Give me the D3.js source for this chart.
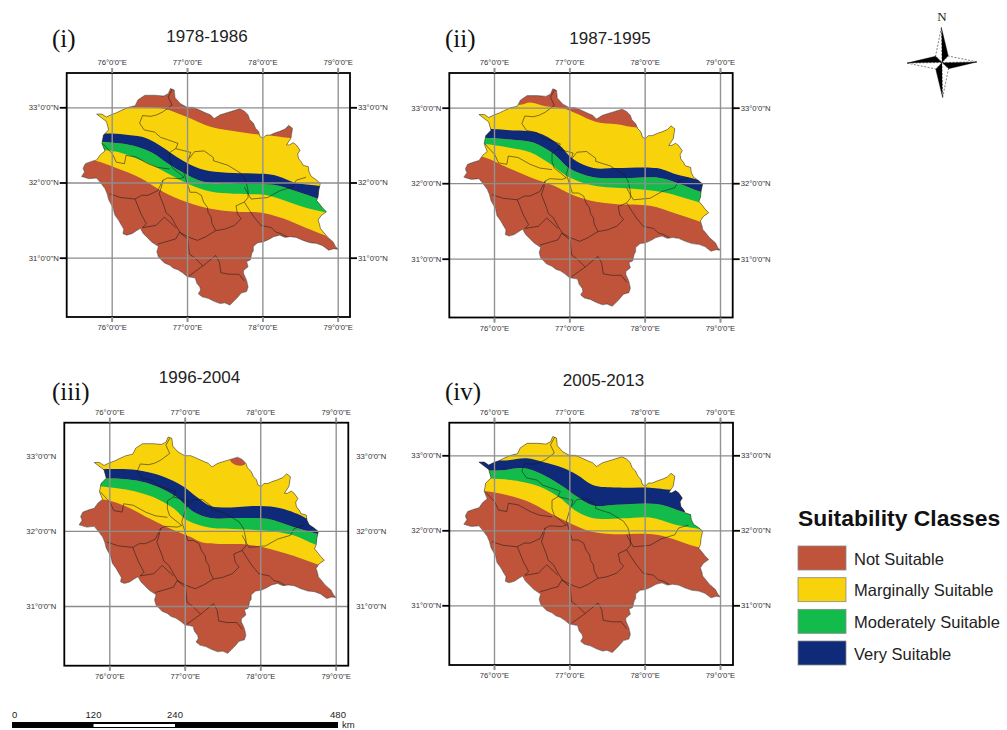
<!DOCTYPE html>
<html><head><meta charset="utf-8">
<script src="https://cdn.jsdelivr.net/npm/d3@7"></script>
<style>
html,body{margin:0;padding:0;background:#fff}
svg{display:block}
text{font-family:"Liberation Sans",Arial,sans-serif}
.serif{font-family:"Liberation Serif","Times New Roman",serif}
</style></head><body>
<svg id="c" width="1007" height="730"></svg>
<script>
// ---------- data ----------
const lonTicks=[76,77,78,79];
const latTicks=[33,32,31];
const classNames=["Not Suitable","Marginally Suitable","Moderately Suitable","Very Suitable"];
const classColors=["#BF543B","#F8D30C","#13BC4A","#0E2A78"];
const periods=["1978-1986","1987-1995","1996-2004","2005-2013"];
const panelTags=["(i)","(ii)","(iii)","(iv)"];
const scaleKm=[0,120,240,480];

const stateOutline=[[75.80,32.91],[75.87,32.91],[75.93,32.87],[75.99,32.90],[76.07,32.93],[76.13,32.96],[76.22,33.00],[76.31,33.02],[76.35,33.10],[76.44,33.16],[76.58,33.16],[76.69,33.15],[76.75,33.18],[76.78,33.25],[76.83,33.23],[76.84,33.13],[76.91,33.05],[77.00,33.00],[77.08,33.00],[77.15,32.97],[77.26,32.92],[77.31,32.90],[77.36,32.85],[77.44,32.90],[77.57,32.94],[77.70,32.98],[77.76,32.95],[77.81,32.90],[77.83,32.84],[77.88,32.79],[77.91,32.72],[77.95,32.68],[77.97,32.61],[78.01,32.59],[78.05,32.63],[78.10,32.63],[78.17,32.66],[78.23,32.68],[78.30,32.71],[78.35,32.76],[78.40,32.72],[78.38,32.59],[78.32,32.50],[78.36,32.50],[78.41,32.53],[78.45,32.50],[78.50,32.43],[78.47,32.38],[78.48,32.32],[78.52,32.27],[78.54,32.23],[78.61,32.21],[78.62,32.14],[78.65,32.08],[78.71,32.04],[78.77,31.99],[78.75,31.90],[78.74,31.81],[78.72,31.76],[78.77,31.70],[78.80,31.66],[78.85,31.61],[78.78,31.56],[78.74,31.50],[78.76,31.44],[78.77,31.39],[78.82,31.33],[78.86,31.28],[78.94,31.21],[78.97,31.15],[79.01,31.11],[78.95,31.12],[78.88,31.10],[78.80,31.16],[78.72,31.19],[78.63,31.20],[78.54,31.23],[78.45,31.27],[78.37,31.28],[78.30,31.27],[78.23,31.30],[78.15,31.28],[78.08,31.24],[78.01,31.21],[77.94,31.20],[77.88,31.15],[77.88,31.09],[77.86,31.06],[77.84,30.97],[77.79,30.95],[77.81,30.88],[77.75,30.83],[77.75,30.79],[77.79,30.70],[77.81,30.61],[77.79,30.55],[77.72,30.53],[77.66,30.46],[77.62,30.42],[77.57,30.37],[77.50,30.40],[77.44,30.39],[77.36,30.42],[77.28,30.46],[77.20,30.48],[77.15,30.52],[77.18,30.57],[77.17,30.61],[77.13,30.66],[77.11,30.73],[77.00,30.75],[76.94,30.80],[76.88,30.84],[76.82,30.86],[76.77,30.90],[76.70,30.93],[76.62,31.01],[76.60,31.08],[76.62,31.15],[76.53,31.21],[76.47,31.27],[76.42,31.32],[76.38,31.39],[76.33,31.36],[76.27,31.32],[76.20,31.30],[76.15,31.32],[76.16,31.38],[76.13,31.43],[76.09,31.50],[76.04,31.57],[76.02,31.66],[75.96,31.77],[75.94,31.85],[75.91,31.92],[75.85,32.00],[75.80,32.06],[75.70,32.05],[75.60,32.08],[75.64,32.14],[75.62,32.19],[75.65,32.25],[75.73,32.28],[75.80,32.30],[75.85,32.37],[75.91,32.42],[75.87,32.52],[75.89,32.63],[75.96,32.70],[75.93,32.81]];

const districtLines=[
[[76.81,33.25],[76.75,33.14],[76.80,33.03],[76.68,32.94],[76.60,32.90],[76.52,32.88],[76.41,32.89],[76.37,32.79],[76.43,32.70],[76.57,32.67],[76.65,32.60],[76.74,32.57],[76.88,32.52],[76.85,32.45],[77.05,32.40]],
[[76.85,32.45],[76.77,32.40],[76.77,32.29],[76.80,32.20],[76.90,32.12],[76.96,32.07]],
[[77.05,32.40],[77.00,32.25],[76.96,32.12],[76.99,32.03],[77.04,31.87],[77.12,31.87],[77.19,31.83],[77.22,31.74],[77.27,31.67],[77.28,31.60],[77.32,31.54],[77.33,31.46],[77.38,31.36]],
[[75.88,32.52],[76.01,32.38],[76.06,32.27],[76.17,32.25],[76.19,32.36],[76.32,32.34],[76.48,32.25],[76.61,32.20],[76.77,32.18]],
[[76.96,32.07],[76.90,32.05],[76.74,32.06],[76.68,32.03],[76.66,31.94],[76.63,31.85],[76.70,31.67],[76.72,31.60],[76.79,31.54],[76.85,31.43],[76.92,31.32],[77.01,31.25]],
[[77.03,32.32],[77.10,32.41],[77.23,32.42],[77.35,32.33],[77.35,32.29],[77.54,32.23],[77.72,32.12],[77.78,32.03],[77.81,31.89],[77.81,31.80],[77.76,31.74],[77.65,31.69],[77.67,31.58],[77.72,31.52],[77.63,31.43],[77.50,31.38],[77.38,31.36],[77.25,31.28],[77.14,31.23],[77.03,31.27],[76.90,31.34],[76.85,31.25],[76.61,31.18]],
[[77.76,31.74],[77.83,31.63],[77.89,31.54],[77.98,31.43],[78.12,31.40],[78.18,31.34],[78.25,31.32],[78.34,31.27]],
[[75.97,31.85],[76.12,31.80],[76.31,31.78],[76.40,31.83],[76.48,31.83],[76.61,31.89],[76.68,32.03]],
[[76.31,31.78],[76.39,31.58],[76.46,31.45],[76.41,31.40],[76.59,31.43],[76.70,31.54],[76.85,31.40]],
[[77.01,31.25],[77.03,31.05],[77.10,31.00],[77.21,30.89],[77.03,30.76]],
[[77.21,30.89],[77.38,31.03],[77.43,30.94],[77.45,30.80],[77.56,30.78],[77.69,30.78],[77.76,30.69]],
[[77.76,31.94],[77.85,31.78],[78.07,31.80],[78.23,31.89],[78.40,31.94],[78.45,32.03],[78.58,32.07]]
];

// class boundaries, each [lon, lat], west to east
const upperYellowEdge=[
[[75.71,33.00],[76.33,33.00],[76.69,32.98],[77.00,32.87],[77.31,32.74],[77.57,32.69],[77.92,32.64],[78.15,32.62],[78.41,32.59],[79.12,32.57]],
[[75.81,33.01],[76.35,33.04],[76.48,33.07],[76.68,33.02],[76.92,32.99],[77.10,32.92],[77.36,32.81],[77.63,32.78],[77.94,32.74],[78.16,32.84],[79.13,33.06]],
[[75.52,33.41],[77.51,33.32],[77.62,32.91],[77.79,32.88],[77.91,33.32],[79.28,33.41]],
[[75.50,33.60],[79.30,33.60]]
];
const veryTopEdge=[
[[75.71,32.65],[76.00,32.65],[76.22,32.63],[76.46,32.59],[76.66,32.48],[76.82,32.37],[77.00,32.26],[77.22,32.17],[77.53,32.13],[77.88,32.12],[78.15,32.10],[78.46,31.99],[78.72,31.96],[79.03,31.90]],
[[75.81,32.72],[75.92,32.72],[76.21,32.70],[76.57,32.67],[76.85,32.52],[77.05,32.32],[77.32,32.20],[77.63,32.20],[78.16,32.20],[78.38,32.13],[78.73,32.04],[79.04,31.95]],
[[75.74,32.82],[75.90,32.82],[76.36,32.81],[76.72,32.72],[76.98,32.59],[77.16,32.45],[77.34,32.33],[77.56,32.31],[78.00,32.33],[78.27,32.30],[78.62,32.16],[78.80,32.00],[79.06,31.90]],
[[75.59,33.00],[76.10,32.93],[76.43,32.96],[76.65,32.91],[76.92,32.83],[77.10,32.74],[77.32,32.60],[77.63,32.57],[78.03,32.57],[78.34,32.54],[79.13,32.49]]
];
const moderateTopEdge=[
[[75.71,32.54],[76.02,32.53],[76.29,32.49],[76.55,32.39],[76.75,32.25],[76.95,32.13],[77.22,32.01],[77.70,31.98],[78.15,31.97],[78.46,31.88],[78.72,31.79],[79.03,31.68]],
[[75.81,32.60],[75.92,32.60],[76.21,32.58],[76.52,32.54],[76.79,32.39],[77.01,32.19],[77.32,32.08],[77.81,32.07],[78.20,32.07],[78.47,31.99],[78.73,31.89],[79.04,31.81]],
[[75.74,32.70],[75.92,32.70],[76.36,32.67],[76.63,32.59],[76.89,32.45],[77.12,32.25],[77.34,32.17],[77.73,32.17],[78.09,32.16],[78.44,32.05],[78.75,31.96],[79.06,31.88]],
[[75.81,32.80],[76.10,32.80],[76.39,32.83],[76.65,32.74],[76.92,32.58],[77.10,32.45],[77.32,32.33],[77.63,32.34],[78.16,32.35],[78.49,32.25],[78.62,32.20],[78.78,32.00],[79.04,31.89]]
];
const lowerYellowEdge=[
[[75.71,32.44],[76.07,32.41],[76.38,32.30],[76.60,32.20],[76.82,32.08],[77.04,31.97],[77.31,31.88],[77.62,31.85],[78.06,31.83],[78.32,31.75],[78.59,31.66],[78.85,31.60],[79.03,31.55]],
[[75.81,32.52],[75.88,32.52],[76.21,32.47],[76.48,32.41],[76.74,32.26],[76.96,32.10],[77.32,31.97],[77.81,31.93],[78.25,31.88],[78.71,31.75],[79.04,31.66]],
[[75.74,32.60],[75.90,32.59],[76.27,32.54],[76.58,32.45],[76.85,32.30],[77.03,32.14],[77.34,32.04],[77.73,32.02],[78.09,32.00],[78.44,31.94],[78.73,31.82],[79.06,31.76]],
[[75.81,32.69],[75.95,32.69],[76.30,32.66],[76.61,32.58],[76.85,32.45],[77.10,32.25],[77.32,32.16],[77.72,32.16],[78.07,32.17],[78.42,32.07],[78.78,32.00],[79.04,31.88]]
];
const notSuitableTopEdge=[
[[75.58,32.30],[75.78,32.29],[76.07,32.19],[76.38,32.06],[76.64,31.90],[76.91,31.77],[77.26,31.66],[77.66,31.61],[77.97,31.60],[78.28,31.52],[78.59,31.39],[78.90,31.27],[79.12,31.19]],
[[75.59,32.39],[75.88,32.34],[76.17,32.21],[76.48,32.08],[76.79,31.97],[77.01,31.86],[77.27,31.77],[77.63,31.72],[78.07,31.70],[78.38,31.61],[78.71,31.50],[79.04,31.39]],
[[75.52,32.41],[75.96,32.41],[76.23,32.32],[76.54,32.16],[76.85,32.01],[77.07,31.92],[77.25,31.84],[77.82,31.82],[78.13,31.76],[78.44,31.67],[78.77,31.55],[79.06,31.45]],
[[75.59,32.52],[75.88,32.52],[76.17,32.47],[76.48,32.37],[76.74,32.23],[76.96,32.12],[77.23,32.00],[77.54,31.95],[78.16,31.94],[78.69,31.78],[79.04,31.72]]
];
const gridLats=[[33,32,31],[33,32,31],[32,31],[33,32,31]];

// ---------- layout ----------
const layout=[
 {l:66.7,r:350,t:73,b:317, x0:111.7,x1:337.7, y0:107.3,y1:257.7, titleX:207,titleY:42, tagX:52,tagY:47},
 {l:449.3,r:732.7,t:73,b:317.5, x0:494,x1:720, y0:107.7,y1:258.7, titleX:610,titleY:44, tagX:445,tagY:47},
 {l:64.3,r:348.3,t:422.7,b:665.7, x0:109.3,x1:335.7, y0:455.7,y1:606, titleX:199.5,titleY:383, tagX:52,tagY:400},
 {l:449.3,r:733,t:422.7,b:665, x0:494,x1:720, y0:455.3,y1:605.3, titleX:603.5,titleY:386, tagX:445,tagY:400}
];

const svg=d3.select("#c");
const lonFmt=d=>`${d}°0'0"E`, latFmt=d=>`${d}°0'0"N`;
const curve=d3.curveCatmullRom.alpha(0.5);

function band(top,bottom,line){
  return line(top)+"L"+line(bottom.slice().reverse()).slice(1)+"Z";
}

layout.forEach((p,i)=>{
  const x=d3.scaleLinear().domain([76,79]).range([p.x0,p.x1]);
  const y=d3.scaleLinear().domain([33,31]).range([p.y0,p.y1]);
  const g=svg.append("g");
  const line=d3.line().x(d=>x(d[0])).y(d=>y(d[1])).curve(curve);
  const poly=d3.line().x(d=>x(d[0])).y(d=>y(d[1]));
  const outlinePath=poly(stateOutline)+"Z";
  g.append("clipPath").attr("id","clip"+i).append("path").attr("d",outlinePath);

  const m=g.append("g").attr("clip-path",`url(#clip${i})`);
  m.append("path").attr("d",outlinePath).attr("fill",classColors[0]);
  m.append("path").attr("d",band(upperYellowEdge[i],notSuitableTopEdge[i],line)).attr("fill",classColors[1]);
  m.append("path").attr("d",band(moderateTopEdge[i],lowerYellowEdge[i],line)).attr("fill",classColors[2]);
  m.append("path").attr("d",band(veryTopEdge[i],moderateTopEdge[i],line)).attr("fill",classColors[3]);
  m.selectAll("path.d").data(districtLines).join("path").attr("class","d")
    .attr("d",poly).attr("fill","none").attr("stroke","#1a1a1a").attr("stroke-width",0.55);
  g.append("path").attr("d",outlinePath).attr("fill","none").attr("stroke","#222").attr("stroke-width",0.5);

  // graticule drawn by axes
  const gl=g.append("g").attr("transform",`translate(0,${p.b+5})`)
    .call(d3.axisBottom(x).tickValues(lonTicks).tickSize(-(p.b-p.t+10)).tickFormat(""));
  gl.select(".domain").remove();
  gl.selectAll("line").attr("stroke","#939393").attr("stroke-width",1.4);
  const gh=g.append("g").attr("transform",`translate(${p.l},0)`)
    .call(d3.axisRight(y).tickValues(gridLats[i]).tickSize(p.r-p.l).tickFormat(""));
  gh.select(".domain").remove();
  gh.selectAll("line").attr("stroke","#8c8c8c").attr("stroke-width",1.3);

  g.append("rect").attr("x",p.l).attr("y",p.t).attr("width",p.r-p.l).attr("height",p.b-p.t)
    .attr("fill","none").attr("stroke","#000").attr("stroke-width",1.8);

  // labels + outer ticks
  const styleAxis=(a,col)=>{
    a.select(".domain").remove();
    a.selectAll("line").attr("stroke",col).attr("stroke-width",1.8);
    a.selectAll("text").attr("font-size",7.7).attr("font-family","Liberation Sans").attr("fill","#333");
  };
  styleAxis(g.append("g").attr("transform",`translate(0,${p.t})`)
    .call(d3.axisTop(x).tickValues(lonTicks).tickSize(5).tickPadding(3).tickFormat(lonFmt)),"#939393");
  styleAxis(g.append("g").attr("transform",`translate(0,${p.b})`)
    .call(d3.axisBottom(x).tickValues(lonTicks).tickSize(5).tickPadding(3).tickFormat(lonFmt)),"#939393");
  styleAxis(g.append("g").attr("transform",`translate(${p.l},0)`)
    .call(d3.axisLeft(y).tickValues(latTicks).tickSize(gridLats[i].length===3?7:0).tickPadding(gridLats[i].length===3?1:8).tickFormat(latFmt)),"#000");
  styleAxis(g.append("g").attr("transform",`translate(${p.r},0)`)
    .call(d3.axisRight(y).tickValues(latTicks).tickSize(gridLats[i].length===3?7:0).tickPadding(gridLats[i].length===3?1:8).tickFormat(latFmt)),"#000");

  g.append("text").attr("x",p.titleX).attr("y",p.titleY).attr("text-anchor","middle")
    .attr("font-size",17).attr("fill","#222").text(periods[i]);
  g.append("text").attr("class","serif").attr("x",p.tagX).attr("y",p.tagY)
    .attr("font-size",25).attr("fill","#111").text(panelTags[i]);
});

// legend
const lg=svg.append("g");
lg.append("text").attr("x",798).attr("y",526).attr("font-size",22.9).attr("font-weight","bold").attr("fill","#111").text("Suitability Classes");
const legendY=d3.scalePoint().domain(classNames).range([546,641]);
const rows=lg.selectAll("g").data(classNames).join("g").attr("transform",d=>`translate(798,${legendY(d)})`);
rows.append("rect").attr("width",48).attr("height",24).attr("fill",(d,i)=>classColors[i]).attr("stroke","#8a8a8a").attr("stroke-width",0.8);
rows.append("text").attr("x",56).attr("y",18.5).attr("font-size",16.5).attr("fill","#222").text(d=>d);

// scale bar
const km=d3.scaleLinear().domain([0,480]).range([12,338]);
const sb=svg.append("g");
sb.append("rect").attr("x",km(0)).attr("y",722).attr("width",km(480)-km(0)).attr("height",6).attr("fill","#000");
sb.append("rect").attr("x",km(120)).attr("y",724).attr("width",km(240)-km(120)).attr("height",3).attr("fill","#fff");
sb.selectAll("text.k").data(scaleKm).join("text").attr("class","k").attr("x",d=>km(d)).attr("y",718)
  .attr("text-anchor",d=>d===0?"start":"middle").attr("font-size",9.5).attr("fill","#222").text(d=>d);
sb.append("text").attr("x",342).attr("y",728).attr("font-size",9.5).attr("fill","#222").text("km");

// north arrow: four arms, each half dark, half light
const compass=svg.append("g").attr("transform","translate(942,62.5) rotate(-1)");
const armLength=[35,35,35,35], armAngle=[0,90,180,270], waist=9;
const pt=(r,a)=>[r*Math.sin(a*Math.PI/180),-r*Math.cos(a*Math.PI/180)];
armAngle.forEach((a,i)=>{
  const tip=pt(armLength[i],a), right=pt(waist,a+45), left=pt(waist,a-45);
  compass.append("path").attr("d",d3.line()([[0,0],tip,right])+"Z").attr("fill","#000").attr("stroke","#000").attr("stroke-width",0.4);
  compass.append("path").attr("d",d3.line()([[0,0],tip,left])+"Z").attr("fill","#fff").attr("stroke","#000").attr("stroke-width",0.5).attr("stroke-dasharray","2 1.5");
});
svg.append("text").attr("class","serif").attr("x",942).attr("y",21).attr("text-anchor","middle").attr("font-size",13).attr("fill","#222").text("N");
</script>
</body></html>
